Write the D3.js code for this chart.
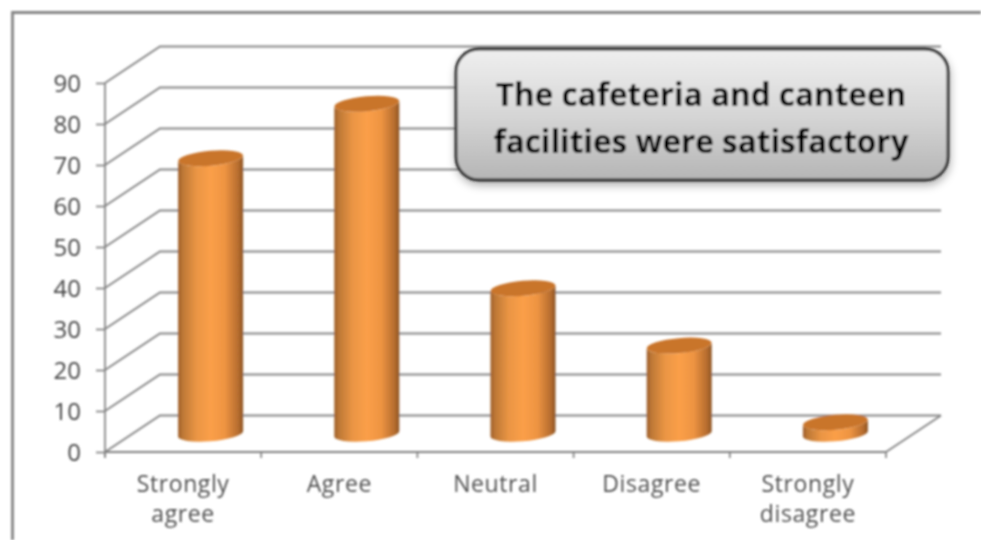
<!DOCTYPE html>
<html><head><meta charset="utf-8">
<script src="https://cdn.jsdelivr.net/npm/d3@7/dist/d3.min.js"></script>
<style>html,body{margin:0;padding:0;background:#fff;overflow:hidden}svg{display:block}
text{font-family:"Open Sans",Lato,sans-serif}</style></head>
<body><div id="chart"></div>
<script>
const categories = ["Strongly agree","Agree","Neutral","Disagree","Strongly disagree"];
const values = [67.2,80.5,35.5,21.5,2.8];
const yTicks = [0,10,20,30,40,50,60,70,80,90];
const titleLines = ["The cafeteria and canteen","facilities were satisfactory"];

const W=981,H=540;
const depthX=55,depthY=-36.5,barW=65,ry=7.5,tilt=2.6;
const x=d3.scaleBand().domain(categories).range([105,886]);
const y=d3.scaleLinear().domain([0,90]).range([452,83]);
const svg=d3.select("#chart").append("svg").attr("width",W).attr("height",H);
const defs=svg.append("defs");
const blur=defs.append("filter").attr("id","soft").attr("x","-5%").attr("y","-5%").attr("width","110%").attr("height","110%");
blur.append("feGaussianBlur").attr("stdDeviation",0.8);
const g1=defs.append("linearGradient").attr("id","cyl");
[[0,"#9c5c28"],[0.07,"#bd7836"],[0.28,"#ea9544"],[0.5,"#fb9f48"],[0.72,"#ee9442"],[0.93,"#b56c2e"],[1,"#8a5222"]]
 .forEach(s=>g1.append("stop").attr("offset",s[0]).attr("stop-color",s[1]));
const g2=defs.append("linearGradient").attr("id","box").attr("x2",0).attr("y2",1);
[[0,"#efefef"],[0.5,"#d6d6d6"],[1,"#b5b5b5"]].forEach(s=>g2.append("stop").attr("offset",s[0]).attr("stop-color",s[1]));
const sh=defs.append("filter").attr("id","shadow").attr("x","-5%").attr("y","-10%").attr("width","110%").attr("height","125%");
sh.append("feDropShadow").attr("dx",1).attr("dy",4).attr("stdDeviation",4).attr("flood-color","#000").attr("flood-opacity",0.3);

const root=svg.append("g").attr("filter","url(#soft)");
root.append("path").attr("d",`M12.5 ${H}V12.5H${W}`).attr("fill","none").attr("stroke","#858585").attr("stroke-width",2.8);

const grid=root.append("g").attr("fill","none").attr("stroke","#858585").attr("stroke-width",1.9);
grid.selectAll("path.g").data(yTicks).join("path").attr("class","g")
 .attr("d",d=>`M${x.range()[0]} ${y(d)}L${x.range()[0]+depthX} ${y(d)+depthY}H${x.range()[1]+depthX}`);
grid.append("path").attr("d",`M${x.range()[1]} ${y(0)}L${x.range()[1]+depthX} ${y(0)+depthY}`);

const yAxis=d3.axisLeft(y).tickValues(yTicks).tickSize(9).tickPadding(15).tickFormat(d3.format("d"));
const ya=root.append("g").attr("transform",`translate(${x.range()[0]},0)`).call(yAxis);
ya.selectAll("path,line").attr("stroke","#808080").attr("stroke-width",1.7);
ya.selectAll("text").attr("fill","#444").attr("font-size",24).attr("dy","0.34em").style("font-family",'"Open Sans"');
ya.select("path").attr("d",`M0 ${y(90)}V${y(0)+5}`);

const edges=[...categories.map(c=>x(c)),x.range()[1]];
const xa=root.append("g");
xa.append("line").attr("x1",x.range()[0]).attr("x2",x.range()[1]).attr("y1",y(0)).attr("y2",y(0)).attr("stroke","#808080").attr("stroke-width",1.9);
xa.selectAll("line.t").data(edges).join("line").attr("class","t").attr("x1",d=>d).attr("x2",d=>d).attr("y1",y(0)).attr("y2",y(0)+6).attr("stroke","#808080").attr("stroke-width",1.7);
const lab=xa.selectAll("text").data(categories).join("text").attr("text-anchor","middle").attr("fill","#4f4f4f").attr("font-size",23).attr("letter-spacing",0.6)
 .attr("x",d=>x(d)+x.bandwidth()/2).attr("y",492);
lab.each(function(d){const t=d3.select(this);
 d.split(" ").forEach((s,i)=>t.append("tspan").attr("x",x(d)+x.bandwidth()/2).attr("dy",i?30:0).text(s));});

root.append("rect").attr("x",456).attr("y",49).attr("width",492).attr("height",131).attr("rx",23)
 .attr("fill","url(#box)").attr("stroke","#262626").attr("stroke-width",2.8).attr("filter","url(#shadow)");
root.append("g").selectAll("text").data(titleLines).join("text").attr("x",701).attr("y",(d,i)=>106+i*46.5)
 .attr("text-anchor","middle").attr("font-weight",700).attr("font-size",31.5).attr("fill","#000").text(d=>d);

const bars=root.append("g").selectAll("g").data(categories.map((c,i)=>({c,v:values[i]}))).join("g")
 .attr("transform",d=>`translate(${x(d.c)+x.bandwidth()/2+depthX/2},${depthY/2})`);
bars.each(function(d){
 const s=d3.select(this),l=-barW/2,r=barW/2,t=y(d.v),b=y(0);
 s.append("path").attr("fill","url(#cyl)")
  .attr("d",`M${l} ${t+tilt}L${l} ${b+tilt}A${barW/2} ${ry} -5 0 0 ${r} ${b-tilt}L${r} ${t-tilt}A${barW/2} ${ry} -5 0 1 ${l} ${t+tilt}Z`);
 s.append("ellipse").attr("rx",barW/2).attr("ry",ry).attr("transform",`translate(0,${t}) rotate(-5)`).attr("fill","#c9742c");
});
</script></body></html>
